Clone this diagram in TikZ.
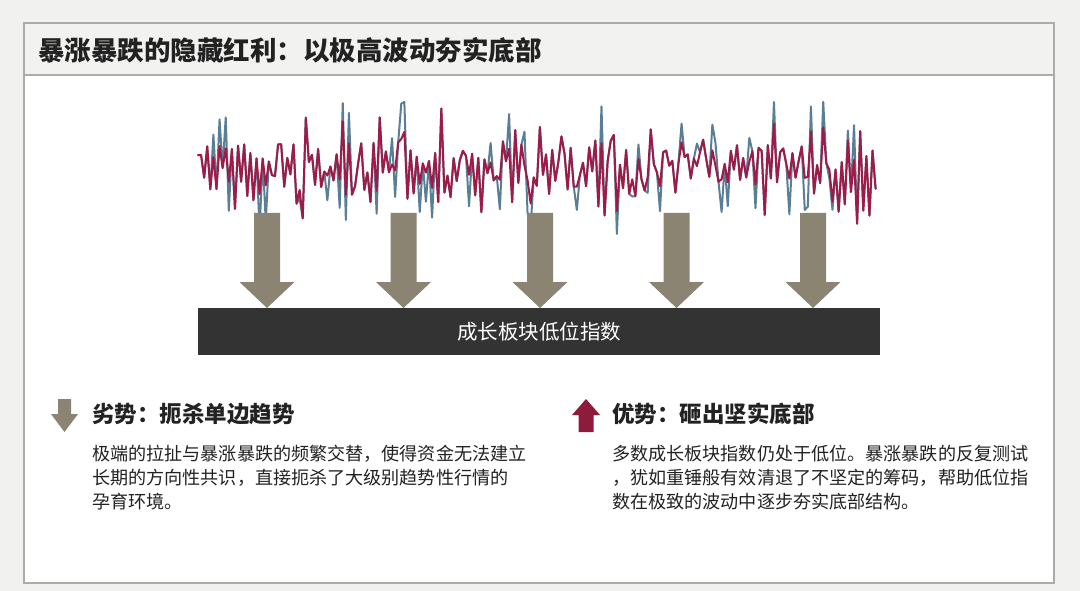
\documentclass[tikz,border=0pt]{standalone}
\usepackage{fontspec}
\newfontfamily\cjk{Noto Sans CJK SC}
\definecolor{bgc}{HTML}{F1F1EF}
\definecolor{bandc}{HTML}{F2F2F0}
\definecolor{framec}{HTML}{ABABAB}
\definecolor{khaki}{HTML}{8B8472}
\definecolor{darkbar}{HTML}{333333}
\definecolor{wavered}{HTML}{9E1A47}
\definecolor{waveblue}{HTML}{5B7E97}
\definecolor{upred}{HTML}{8E1B3C}
\definecolor{txt}{HTML}{222222}
\tikzset{
  titletxt/.style={anchor=west,inner sep=0pt,text=txt,font=\cjk\bfseries\fontsize{26.5}{30}\selectfont},
  headtxt/.style={anchor=west,inner sep=0pt,text=txt,font=\cjk\bfseries\fontsize{22.5}{26}\selectfont},
  bodytxt/.style={anchor=west,inner sep=0pt,text=txt,font=\cjk\fontsize{18.1}{24}\selectfont},
  bartxt/.style={inner sep=0pt,text=white,font=\cjk\fontsize{20.5}{24}\selectfont},
  bigdown/.pic={\fill[khaki] (-13,0) -- (13,0) -- (13,69) -- (27.5,69) -- (0,95) -- (-27.5,69) -- (-13,69) -- cycle;},
  smalldown/.pic={\fill[khaki] (-6.5,0) -- (6.5,0) -- (6.5,15) -- (13.5,15) -- (0,33) -- (-13.5,15) -- (-6.5,15) -- cycle;},
  smallup/.pic={\fill[upred] (-7.5,0) -- (7.5,0) -- (7.5,-17) -- (14,-17) -- (0,-33) -- (-14,-17) -- (-7.5,-17) -- cycle;},
  wave/.style={line width=2pt,line join=round,line cap=round}
}
\begin{document}
\begin{tikzpicture}[x=1pt,y=-1pt]
\useasboundingbox (0,0) rectangle (1080,591);
\fill[bgc] (0,0) rectangle (1080,591);
% frame
\fill[white] (24,23) rectangle (1054,583);
\fill[bandc] (24,23) rectangle (1054,75);
\draw[framec,line width=1.1pt] (24,75) -- (1054,75);
\draw[framec,line width=1.3pt] (24,23) rectangle (1054,583);
\node[titletxt] (title) at (38,50) {暴涨暴跌的隐藏红利：以极高波动夯实底部};
% waveform data
\pgfmathsetseed{31}
\foreach \i in {0,...,220}{
  \pgfmathsetmacro\ra{rnd}
  \pgfmathsetmacro\rb{rand}
  \pgfmathsetmacro\rc{rnd}
  \pgfmathsetmacro\sg{mod(\i,2)==0 ? 1 : -1}
  \pgfmathsetmacro\vr{max(-66,min(66,\sg*(4+22*\ra) + 42*\rb*\rb*\rb))}
  \pgfmathsetmacro\vb{max(-66,min(66,\vr + (\rc>0.72 ? (\vr>0 ? 1 : -1)*(8+30*(\rc-0.72)/0.28) : 0)))}
  \expandafter\xdef\csname wr\i\endcsname{\vr}
  \expandafter\xdef\csname wb\i\endcsname{\vb}
}
\draw[wave,waveblue] (198,{168+\csname wb0\endcsname}) \foreach \i in {1,...,220}{ -- ({198+\i*3.08},{168+\csname wb\i\endcsname}) };
\draw[wave,wavered] (198,{168+\csname wr0\endcsname}) \foreach \i in {1,...,220}{ -- ({198+\i*3.08},{168+\csname wr\i\endcsname}) };
% arrows
\foreach \cx in {267,403.5,540,676.5,813}{
  \pic at (\cx,213) {bigdown};
}
% bar
\node[fill=darkbar,minimum width=682pt,minimum height=47pt,inner sep=0pt,anchor=north west] (bar) at (198,308) {};
\node[bartxt] (bartext) at (bar.center) {成长板块低位指数};
% left column
\pic at (64.5,399) {smalldown};
\node[headtxt] (lhead) at (92,414) {劣势：扼杀单边趋势};
\node[bodytxt] (l1) at (92,454) {极端的拉扯与暴涨暴跌的频繁交替，使得资金无法建立};
\node[bodytxt] (l2) at (92,478) {长期的方向性共识，直接扼杀了大级别趋势性行情的};
\node[bodytxt] (l3) at (92,502) {孕育环境。};
% right column
\pic at (586,432) {smallup};
\node[headtxt] (rhead) at (612,414) {优势：砸出坚实底部};
\node[bodytxt] (r1) at (612,454) {多数成长板块指数仍处于低位。暴涨暴跌的反复测试};
\node[bodytxt] (r2) at (612,478) {，犹如重锤般有效清退了不坚定的筹码，帮助低位指};
\node[bodytxt] (r3) at (612,502) {数在极致的波动中逐步夯实底部结构。};
\end{tikzpicture}
\end{document}
